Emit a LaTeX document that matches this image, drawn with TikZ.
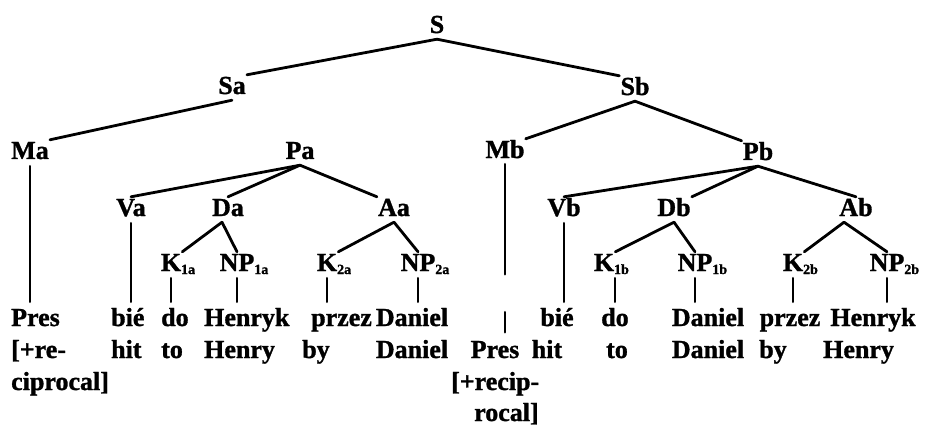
\documentclass[tikz,border=0pt]{standalone}
\usepackage{fontspec}
\setmainfont{Liberation Serif}[BoldFeatures={FakeBold=1.2}]
\usetikzlibrary{calc}
\newcommand{\labsub}[1]{\rlap{\raisebox{-3pt}{\fontsize{14}{14}\selectfont #1}}}
\begin{document}
\begin{tikzpicture}[x=1pt,y=-1pt,
  lab/.style={font=\fontsize{26}{30}\selectfont\bfseries, inner sep=1pt, text height=18pt, text depth=5pt, anchor=base},
  word/.style={font=\fontsize{26}{30}\selectfont\bfseries, inner sep=1pt, text height=18pt, text depth=5pt, anchor=base},
  wordw/.style={word, anchor=base west},
  edge/.style={line width=2.8pt, line cap=round},
  vert/.style={edge, shorten >=5pt, shorten <=1pt}]
\useasboundingbox[fill=white] (0,0) rectangle (929,433);
% tree labels
\node[lab] (S) at (437,33) {S};
\node[lab] (Sa) at (232,94) {Sa};
\node[lab] (Sb) at (635,95) {Sb};
\node[lab] (Ma) at (30,159) {Ma};
\node[lab] (Pa) at (300,159) {Pa};
\node[lab] (Mb) at (505,158) {Mb};
\node[lab] (Pb) at (758,160) {Pb};
\node[lab] (Va) at (131,216) {Va};
\node[lab] (Da) at (228,216) {Da};
\node[lab] (Aa) at (394,216) {Aa};
\node[lab] (Vb) at (564,216) {Vb};
\node[lab] (Db) at (674,216) {Db};
\node[lab] (Ab) at (856,216) {Ab};
\node[lab] (K1a) at (171,271) {K\labsub{1a}};
\node[lab] (NP1a) at (237,271) {NP\labsub{1a}};
\node[lab] (K2a) at (327,271) {K\labsub{2a}};
\node[lab] (NP2a) at (418,271) {NP\labsub{2a}};
\node[lab] (K1b) at (604,271) {K\labsub{1b}};
\node[lab] (NP1b) at (695,271) {NP\labsub{1b}};
\node[lab] (K2b) at (793,271) {K\labsub{2b}};
\node[lab] (NP2b) at (887,271) {NP\labsub{2b}};
% words, left
\node[wordw] (presA) at (10,326) {Pres};
\node[wordw] (recA) at (10,358) {[+re-};
\node[wordw] (ciprA) at (10,390) {ciprocal]};
\node[wordw] (bieA) at (110,326) {bié};
\node[wordw] (hitA) at (110,358) {hit};
\node[wordw] (doA) at (160,326) {do};
\node[wordw] (toA) at (160,358) {to};
\node[wordw] (henrykA) at (203,326) {Henryk};
\node[wordw] (henryA) at (203,358) {Henry};
\node[wordw] (przezA) at (310,326) {przez};
\node[word] (byA) at (316,358) {by};
\node[word] (danielA1) at (412,326) {Daniel};
\node[word] (danielA2) at (412,358) {Daniel};
% words, right
\node[word] (bieB) at (557,326) {bié};
\node[word] (doB) at (615,326) {do};
\node[word] (danielB1) at (708,326) {Daniel};
\node[word] (przezB) at (790,326) {przez};
\node[word] (henrykB) at (873,326) {Henryk};
\node[word] (presB) at (495,358) {Pres};
\node[word] (hitB) at (547,358) {hit};
\node[word] (toB) at (617,358) {to};
\node[word] (danielB2) at (708,358) {Daniel};
\node[word] (byB) at (773,358) {by};
\node[wordw] (henryB) at (822,358) {Henry};
\node[wordw] (recipB) at (450,390) {[+recip-};
\node[wordw] (rocalB) at (473,421) {rocal]};
% edges
\draw[edge] (S.south) -- (Sa.north east);
\draw[edge] (S.south) -- (Sb.north west);
\draw[edge] (Sa.south) -- (Ma.north east);
\draw[edge] (Sb.south) -- (Mb.north east);
\draw[edge] (Sb.south) -- (Pb.north west);
\draw[edge] (Pa.south) -- (Va.north);
\draw[edge] (Pa.south) -- (Da.north);
\draw[edge] (Pa.south) -- (Aa.north west);
\draw[edge] (Pb.south) -- (Vb.north);
\draw[edge] (Pb.south) -- (Db.north east);
\draw[edge] (Pb.south) -- (Ab.north);
\draw[edge] ($(Da.south)+(-6,0)$) -- (K1a.north east);
\draw[edge] ($(Da.south)+(-6,0)$) -- (NP1a.north);
\draw[edge] (Aa.south) -- (K2a.north east);
\draw[edge] (Aa.south) -- (NP2a.north);
\draw[edge] (Db.south) -- (K1b.north east);
\draw[edge] (Db.south) -- (NP1b.north);
\draw[edge] ($(Ab.south)+(-12,0)$) -- (K2b.north east);
\draw[edge] ($(Ab.south)+(-12,0)$) -- (NP2b.north);
% verticals
\draw[vert] (Ma.south) -- (Ma.south |- presA.north);
\draw[vert] (Va.south) -- (Va.south |- bieA.north);
\draw[vert] (Vb.south) -- (Vb.south |- bieB.north);
\draw[edge, dash pattern=on 110pt off 38pt on 20pt off 60pt] (Mb.south) -- (Mb.south |- presB.north);
\draw[vert] (K1a.south) -- (K1a.south |- doA.north);
\draw[vert] (NP1a.south) -- (NP1a.south |- henrykA.north);
\draw[vert] (K2a.south) -- (K2a.south |- przezA.north);
\draw[vert] (NP2a.south) -- (NP2a.south |- danielA1.north);
\draw[vert] (K1b.south -| doB.north) -- (doB.north);
\draw[vert] (NP1b.south) -- (NP1b.south |- danielB1.north);
\draw[vert] (K2b.south) -- (K2b.south |- przezB.north);
\draw[vert] (NP2b.south) -- (NP2b.south |- henrykB.north);
\end{tikzpicture}
\end{document}
